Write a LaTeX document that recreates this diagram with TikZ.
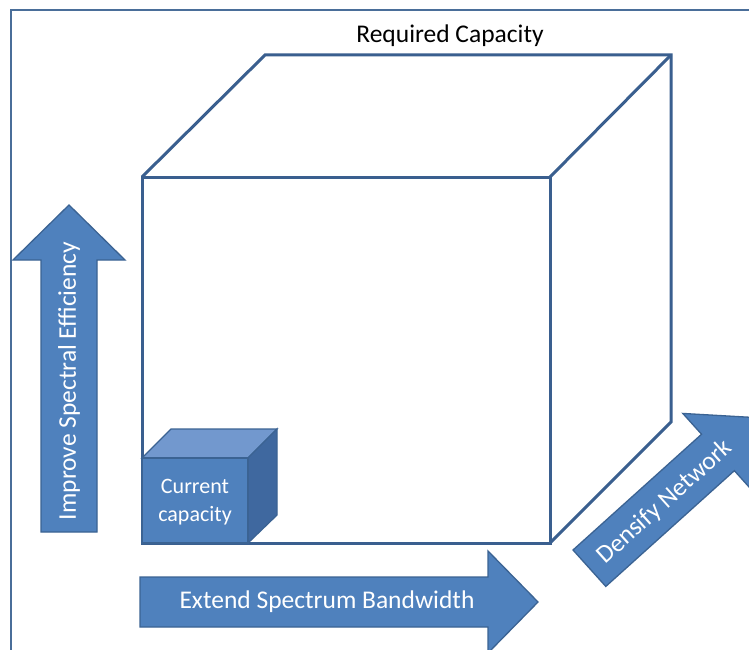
\documentclass[tikz,border=0pt]{standalone}
\usepackage{fontspec}
\setmainfont{Carlito}
\definecolor{framec}{HTML}{4A6E99}
\definecolor{edgec}{HTML}{3A5F8F}
\definecolor{arrowfill}{HTML}{4F81BD}
\definecolor{arrowline}{HTML}{3B6393}
\definecolor{cubetop}{HTML}{7298CE}
\definecolor{cubeside}{HTML}{3F689F}
\tikzset{
  bigedge/.style={draw=edgec, line width=3pt, line join=miter},
  fatarrow/.style={fill=arrowfill, draw=arrowline, line width=1.3pt, line join=miter},
  smallface/.style={draw=arrowline, line width=1.3pt, line join=miter},
  wlabel/.style={text=white, font=\fontsize{25.5}{30}\selectfont, inner sep=0pt}
}
\begin{document}
\begin{tikzpicture}[x=1pt, y=-1pt]
\useasboundingbox (0,0) rectangle (749,650);
\clip (0,0) rectangle (749,650);
\fill[white] (0,0) rectangle (749,650);
% outer frame
\draw[framec, line width=1.8pt] (11,10) rectangle (780,680);
% big cube
\coordinate (A) at (142,177); \coordinate (B) at (550,177);
\coordinate (C) at (550,543); \coordinate (D) at (142,543);
\coordinate (E) at (265,55); \coordinate (F) at (671,55); \coordinate (G) at (671,422);
\draw[bigedge] (A) -- (B) -- (C) -- (D) -- cycle;
\draw[bigedge] (A) -- (E) -- (F) -- (G) -- (C);
\draw[bigedge] (B) -- (F);
\node[font=\fontsize{25.5}{30}\selectfont, inner sep=0pt] (req) at (450,36) {Required Capacity};
% small cube
\coordinate (a) at (142,458); \coordinate (b) at (248,458);
\coordinate (c) at (248,543); \coordinate (d) at (142,543);
\coordinate (e) at (171,429); \coordinate (f) at (277,429); \coordinate (g) at (277,515);
\filldraw[smallface, fill=cubetop] (a) -- (e) -- (f) -- (b) -- cycle;
\filldraw[smallface, fill=cubeside] (b) -- (f) -- (g) -- (c) -- cycle;
\filldraw[smallface, fill=arrowfill] (a) -- (b) -- (c) -- (d) -- cycle;
\node[wlabel, align=center, font=\fontsize{22}{28}\selectfont] (cur) at (195,502) {Current\\capacity};
% extend arrow
\filldraw[fatarrow] (140,577) -- (488,577) -- (488,551) -- (538,602) -- (488,653) -- (488,627) -- (140,627) -- cycle;
\node[wlabel] (ext) at (327,602) {Extend Spectrum Bandwidth};
% improve arrow
\filldraw[fatarrow] (41,532) -- (41,260) -- (13,260) -- (69,205) -- (125,260) -- (97,260) -- (97,532) -- cycle;
\node[wlabel, rotate=90] (imp) at (69,381) {Improve Spectral Efficiency};
% densify arrow
\begin{scope}[shift={(573,550)}, rotate=42]
\filldraw[fatarrow] (0,0) -- (173,0) -- (173,-28) -- (225,24.5) -- (173,77) -- (173,49) -- (0,49) -- cycle;
\end{scope}
\node[wlabel, rotate=42] (den) at (665,502) {Densify Network};
\end{tikzpicture}
\end{document}
